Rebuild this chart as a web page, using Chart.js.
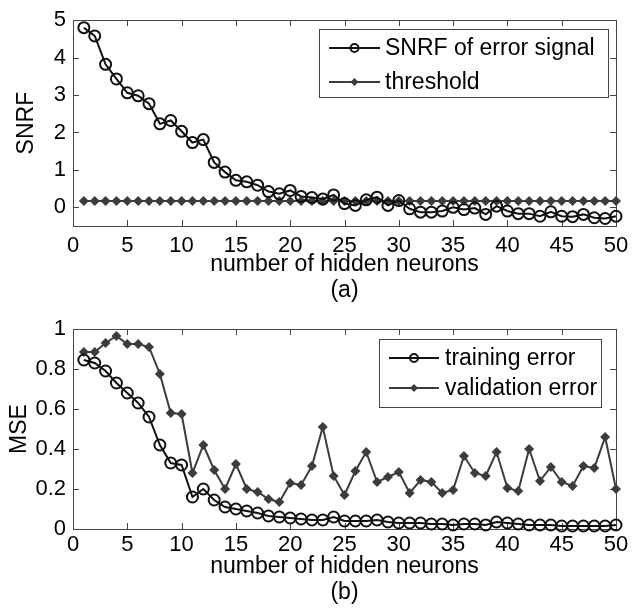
<!DOCTYPE html>
<html><head><meta charset="utf-8">
<script src="https://cdn.jsdelivr.net/npm/chart.js@4.4.1/dist/chart.umd.min.js"></script>
<style>
html,body{margin:0;padding:0;background:#fff;width:640px;height:611px;overflow:hidden}
#c1{position:absolute;left:0;top:0}
#c2{position:absolute;left:0;top:305px}
</style></head><body>
<canvas id="c1" width="640" height="305"></canvas>
<canvas id="c2" width="640" height="306"></canvas>
<script>
// ---- data ----
const neurons = [1,2,3,4,5,6,7,8,9,10,11,12,13,14,15,16,17,18,19,20,21,22,23,24,25,
                 26,27,28,29,30,31,32,33,34,35,36,37,38,39,40,41,42,43,44,45,46,47,48,49,50];
const snrf = [4.80,4.58,3.82,3.43,3.06,2.98,2.77,2.23,2.32,2.03,1.73,1.81,1.20,0.94,0.72,0.68,0.59,0.42,0.36,0.45,
              0.29,0.26,0.22,0.33,0.10,0.05,0.20,0.27,0.05,0.18,-0.04,-0.13,-0.13,-0.10,0.00,-0.06,-0.02,-0.19,0.03,-0.10,
              -0.17,-0.17,-0.24,-0.12,-0.24,-0.25,-0.19,-0.28,-0.30,-0.24];
const threshold = [0.17,0.17,0.17,0.17,0.17,0.17,0.17,0.17,0.17,0.17,0.17,0.17,0.17,0.17,0.17,0.17,0.17,0.17,0.17,0.17,
                   0.17,0.17,0.17,0.17,0.17,0.17,0.17,0.17,0.17,0.17,0.17,0.17,0.17,0.17,0.17,0.17,0.17,0.17,0.17,0.17,
                   0.17,0.17,0.17,0.17,0.17,0.17,0.17,0.17,0.17,0.17];
const trainingError = [0.845,0.83,0.79,0.73,0.68,0.63,0.56,0.42,0.33,0.32,0.16,0.20,0.145,0.11,0.10,0.09,0.08,0.065,0.06,0.055,
                       0.05,0.045,0.045,0.06,0.04,0.04,0.04,0.045,0.035,0.03,0.03,0.03,0.025,0.025,0.02,0.025,0.025,0.02,0.035,0.03,
                       0.025,0.02,0.02,0.02,0.015,0.015,0.015,0.015,0.015,0.02];
const validationError = [0.885,0.885,0.93,0.965,0.925,0.925,0.91,0.775,0.58,0.575,0.28,0.42,0.295,0.20,0.325,0.20,0.185,0.15,0.135,0.23,
                         0.22,0.315,0.51,0.265,0.17,0.29,0.385,0.235,0.26,0.285,0.18,0.245,0.235,0.18,0.195,0.365,0.28,0.265,0.385,0.205,
                         0.19,0.40,0.24,0.31,0.235,0.215,0.315,0.305,0.46,0.20];
const xTicks = [0,5,10,15,20,25,30,35,40,45,50];
const yTicksA = [0,1,2,3,4,5];
const yTicksB = [0,0.2,0.4,0.6,0.8,1];
const labelsA = ['SNRF of error signal','threshold'];
const labelsB = ['training error','validation error'];

const FONT = "'Liberation Sans', Arial, sans-serif";
const pts = ys => ys.map((y,i)=>({x:neurons[i], y}));

function drawMarker(ctx, style, x, y, r, color, lw){
  ctx.save();
  ctx.lineWidth = lw;
  ctx.strokeStyle = color; ctx.fillStyle = color;
  ctx.beginPath();
  if(style==='circle'){ ctx.arc(x,y,r,0,Math.PI*2); ctx.stroke(); }
  else { ctx.moveTo(x,y-r); ctx.lineTo(x+r,y); ctx.lineTo(x,y+r); ctx.lineTo(x-r,y); ctx.closePath(); ctx.fill(); }
  ctx.restore();
}

const boxPlugin = {
  id:'matlabBox',
  beforeDatasetsDraw(chart){
    const {ctx, chartArea:ca, scales} = chart;
    ctx.save();
    ctx.strokeStyle = '#444'; ctx.lineWidth = 1;
    ctx.strokeRect(Math.round(ca.left)+0.5, Math.round(ca.top)+0.5, Math.round(ca.right-ca.left), Math.round(ca.bottom-ca.top));
    const L = 6;
    ctx.beginPath();
    scales.x.ticks.forEach(t=>{
      const px = Math.round(scales.x.getPixelForValue(t.value))+0.5;
      ctx.moveTo(px, ca.bottom); ctx.lineTo(px, ca.bottom-L);
      ctx.moveTo(px, ca.top); ctx.lineTo(px, ca.top+L);
    });
    scales.y.ticks.forEach(t=>{
      const py = Math.round(scales.y.getPixelForValue(t.value))+0.5;
      ctx.moveTo(ca.left, py); ctx.lineTo(ca.left+L, py);
      ctx.moveTo(ca.right, py); ctx.lineTo(ca.right-L, py);
    });
    ctx.stroke();
    ctx.restore();
  }
};

function legendPlugin(cfg){
  return {
    id:'boxLegend',
    afterDraw(chart){
      const {ctx, chartArea:ca} = chart;
      const ds = chart.data.datasets;
      ctx.save();
      ctx.font = '23px ' + FONT;
      const tw = Math.max(...ds.map(d=>ctx.measureText(d.label).width));
      const w = cfg.padL + cfg.sample + cfg.gap + tw + cfg.padR;
      const x0 = Math.round(ca.right - cfg.right - w);
      const y0 = Math.round(ca.top + cfg.top);
      ctx.fillStyle = '#fff';
      ctx.fillRect(x0, y0, w, cfg.h);
      ctx.strokeStyle = '#444'; ctx.lineWidth = 1;
      ctx.strokeRect(x0+0.5, y0+0.5, Math.round(w), cfg.h);
      ds.forEach((d,i)=>{
        const y = y0 + cfg.rows[i];
        const xs = x0 + cfg.padL;
        ctx.strokeStyle = d.borderColor; ctx.lineWidth = 2;
        ctx.beginPath(); ctx.moveTo(xs, y); ctx.lineTo(xs+cfg.sample, y); ctx.stroke();
        drawMarker(ctx, d.pointStyle, xs+cfg.sample/2, y, 4, d.borderColor, 2);
        ctx.fillStyle = '#000';
        ctx.textBaseline = 'middle'; ctx.textAlign = 'left';
        ctx.fillText(d.label, xs+cfg.sample+cfg.gap, y+1);
      });
      ctx.restore();
    }
  };
}

function makeChart(id, o){
  return new Chart(document.getElementById(id), {
    type:'line',
    data:{ datasets: o.datasets },
    options:{
      responsive:false, animation:false, devicePixelRatio:1,
      layout:{ padding:{ left:0, right:24, top:o.padTop, bottom:o.padBottom } },
      plugins:{ legend:{display:false}, tooltip:{enabled:false} },
      scales:{
        x:{
          type:'linear', min:0, max:50,
          afterBuildTicks: s => { s.ticks = xTicks.map(v=>({value:v})); },
          afterFit: s => { s.height = o.xHeight; },
          grid:{ display:false, drawTicks:false },
          border:{ display:false },
          ticks:{ color:'#000', font:{family:FONT, size:22}, padding:o.xTickPad, maxRotation:0, autoSkip:false,
                  callback: v => String(v) },
          title:{ display:true, text:['number of hidden neurons', o.panel], color:'#000',
                  font:{family:FONT, size:23, lineHeight:1.1}, padding:{top:0,bottom:0} }
        },
        y:{
          type:'linear', min:o.yMin, max:o.yMax,
          afterBuildTicks: s => { s.ticks = o.yTicks.map(v=>({value:v})); },
          afterFit: s => { s.width = 73; },
          grid:{ display:false, drawTicks:false },
          border:{ display:false },
          ticks:{ color:'#000', font:{family:FONT, size:22}, padding:7,
                  callback: v => String(Math.round(v*10)/10) },
          title:{ display:true, text:o.yTitle, color:'#000',
                  font:{family:FONT, size:23, lineHeight:1.2}, padding:{top:o.yTitlePad, bottom:0} }
        }
      }
    },
    plugins:[boxPlugin, legendPlugin(o.legend)]
  });
}

makeChart('c1', {
  datasets:[
    { label:labelsA[0], data:pts(snrf), borderColor:'#111', backgroundColor:'rgba(0,0,0,0)', borderWidth:2,
      pointStyle:'circle', pointRadius:5.5, pointBorderWidth:2, pointBackgroundColor:'rgba(0,0,0,0)', pointBorderColor:'#111', clip:false },
    { label:labelsA[1], data:pts(threshold), borderColor:'#3c3c3c', backgroundColor:'#3c3c3c', borderWidth:2,
      pointStyle:'rectRot', pointRadius:5, pointBorderWidth:0, pointBackgroundColor:'#3c3c3c', clip:false }
  ],
  padTop:15, padBottom:2, xHeight:77, xTickPad:7, panel:'(a)',
  yMin:-0.5, yMax:5, yTicks:yTicksA, yTitle:'SNRF', yTitlePad:13,
  legend:{ padL:10, sample:51, gap:5, padR:13, right:8, top:9, h:68, rows:[19,53] }
});

makeChart('c2', {
  datasets:[
    { label:labelsB[0], data:pts(trainingError), borderColor:'#111', backgroundColor:'rgba(0,0,0,0)', borderWidth:2,
      pointStyle:'circle', pointRadius:5.5, pointBorderWidth:2, pointBackgroundColor:'rgba(0,0,0,0)', pointBorderColor:'#111', clip:false },
    { label:labelsB[1], data:pts(validationError), borderColor:'#3c3c3c', backgroundColor:'#3c3c3c', borderWidth:2,
      pointStyle:'rectRot', pointRadius:5, pointBorderWidth:0, pointBackgroundColor:'#3c3c3c', clip:false }
  ],
  padTop:24, padBottom:6, xHeight:76, xTickPad:3, panel:'(b)',
  yMin:0, yMax:1, yTicks:yTicksB, yTitle:'MSE', yTitlePad:6,
  legend:{ padL:10, sample:50, gap:6, padR:4, right:15, top:10, h:68, rows:[19,49] }
});
</script>
</body></html>
